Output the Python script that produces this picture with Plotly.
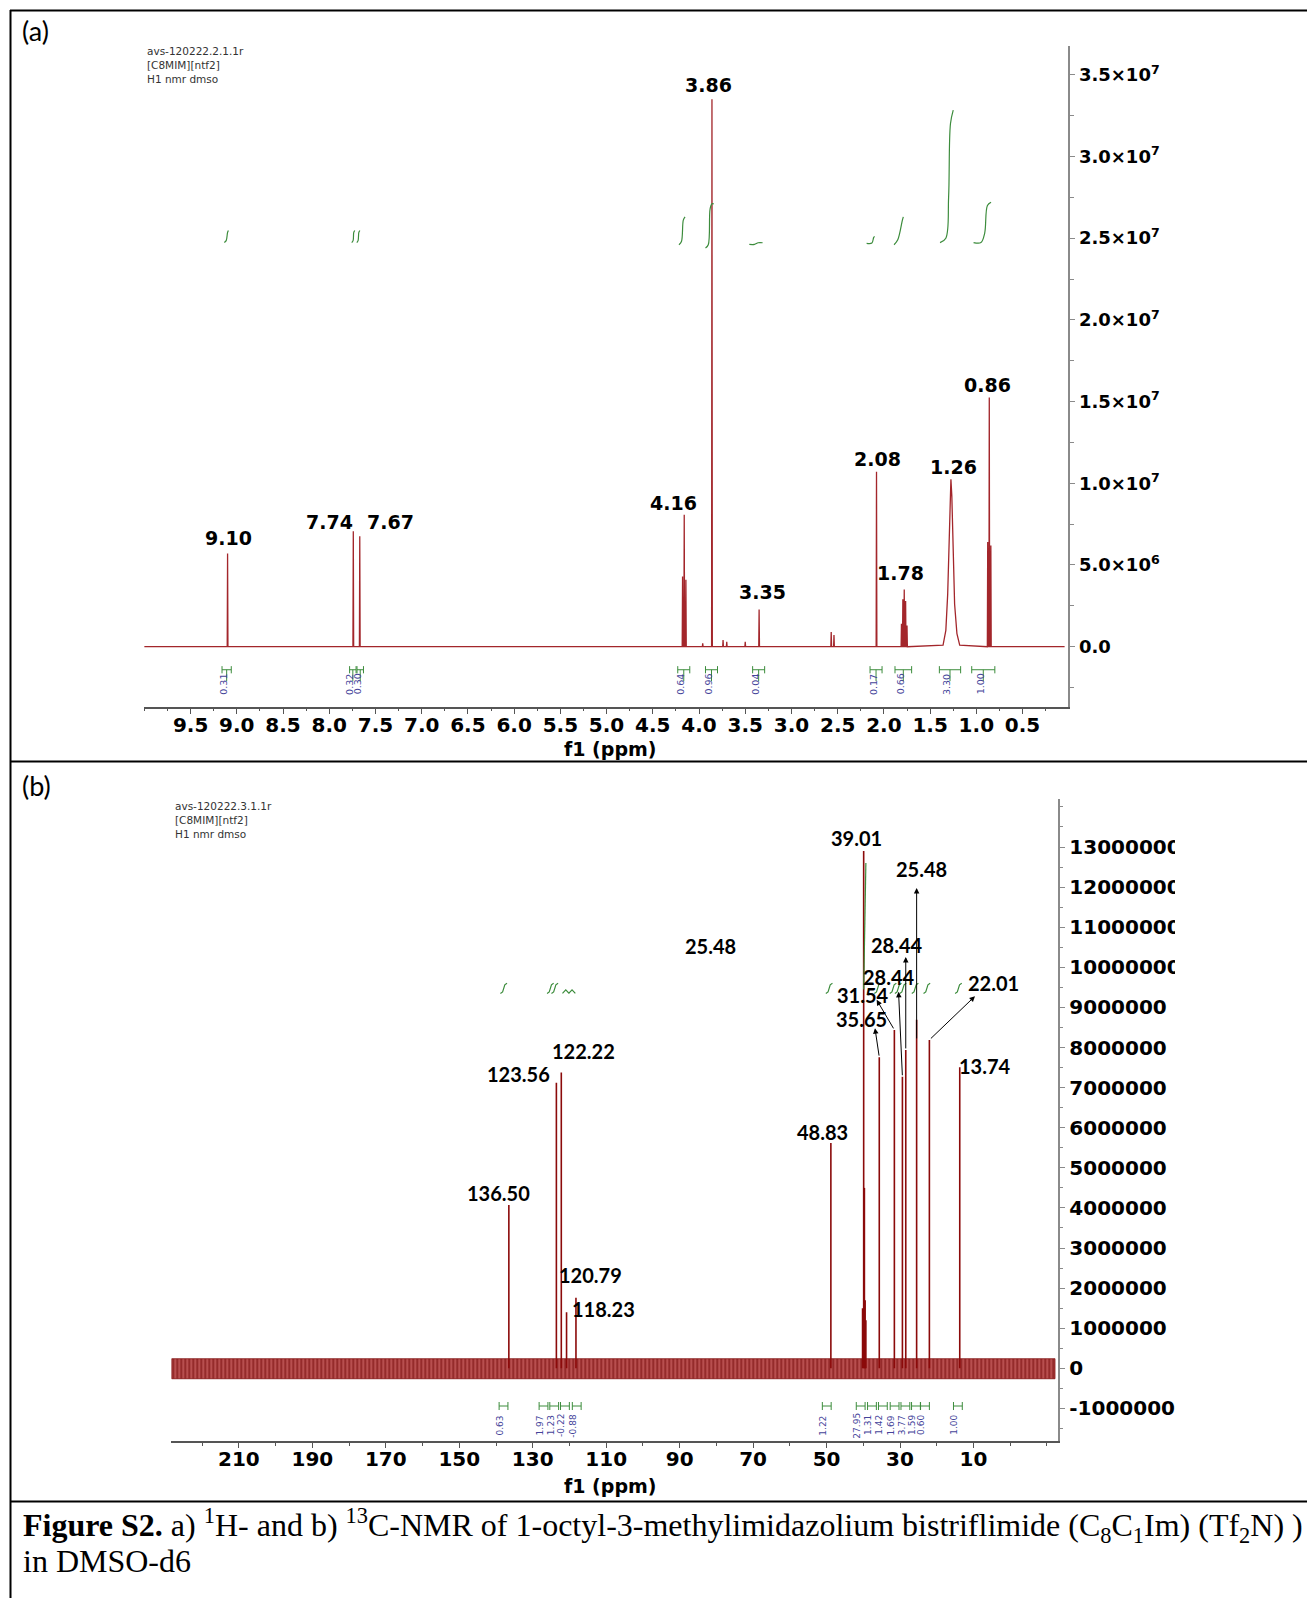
import plotly.graph_objects as go

W, H = 1307, 1598

# ---------------- (a) 1H NMR data ----------------
h_line_ppm = [9.10, 7.74, 7.67, 4.178, 4.160, 4.142, 3.96, 3.86, 3.74, 3.70, 3.50, 3.35,
              2.57, 2.54, 2.08, 1.81, 1.795, 1.78, 1.765, 1.75, 0.877, 0.86, 0.843]
h_line_int = [5.70e6, 7.07e6, 6.76e6, 4.3e6, 8.07e6, 4.1e6, 0.2e6, 3.35e7, 0.4e6, 0.3e6, 0.3e6, 2.27e6,
              0.9e6, 0.72e6, 1.07e7, 1.4e6, 2.9e6, 3.5e6, 2.8e6, 1.3e6, 6.4e6, 1.525e7, 6.2e6]
h_broad_ppm = [1.36, 1.33, 1.31, 1.295, 1.285, 1.275, 1.265, 1.25, 1.235, 1.21, 1.18]
h_broad_int = [0.1e6, 1.0e6, 3.2e6, 6.8e6, 9.4e6, 1.025e7, 9.2e6, 5.8e6, 2.6e6, 0.8e6, 0.1e6]
h_range = [10.0074, 0.0052]

h_labels = ["9.10", "7.74", "7.67", "4.16", "3.86", "3.35", "2.08", "1.78", "1.26", "0.86"]
h_label_ppm = [9.091, 8.0, 7.337, 4.272, 3.896, 3.312, 2.066, 1.824, 1.250, 0.875]
h_label_int = [6.63e6, 7.63e6, 7.63e6, 8.82e6, 34.4e6, 3.33e6, 11.5e6, 4.51e6, 11.0e6, 16.0e6]

h_int_curves = [
    ([9.135, 9.115, 9.100, 9.091], [24.73e6, 24.85e6, 25.35e6, 25.47e6]),
    ([7.757, 7.742, 7.735, 7.724], [24.73e6, 24.85e6, 25.35e6, 25.47e6]),
    ([7.702, 7.688, 7.680, 7.669], [24.73e6, 24.85e6, 25.35e6, 25.47e6]),
    ([4.217, 4.19, 4.17, 4.151], [24.6e6, 24.8e6, 26.1e6, 26.3e6]),
    ([3.930, 3.90, 3.88, 3.86, 3.841], [24.4e6, 24.6e6, 26.8e6, 27.1e6, 27.1e6]),
    ([3.456, 3.40, 3.36, 3.312], [24.62e6, 24.62e6, 24.72e6, 24.72e6]),
    ([2.187, 2.13, 2.11, 2.100], [24.68e6, 24.7e6, 25.05e6, 25.1e6]),
    ([1.890, 1.85, 1.80, 1.790], [24.6e6, 24.9e6, 26.1e6, 26.3e6]),
    ([1.393, 1.33, 1.30, 1.28, 1.250], [24.73e6, 25.0e6, 27.5e6, 32.0e6, 32.84e6]),
    ([1.030, 0.95, 0.91, 0.88, 0.841], [24.73e6, 24.73e6, 25.3e6, 27.0e6, 27.2e6]),
]
h_br_left = [9.16, 7.78, 7.70, 4.23, 3.93, 3.42, 2.15, 1.88, 1.40, 1.05]
h_br_right = [9.06, 7.71, 7.63, 4.10, 3.80, 3.29, 2.02, 1.70, 1.17, 0.80]
h_br_val = ["0.31", "0.32", "0.30", "0.64", "0.96", "0.04", "0.17", "0.66", "3.30", "1.00"]

h_xticks = [9.5, 9.0, 8.5, 8.0, 7.5, 7.0, 6.5, 6.0, 5.5, 5.0, 4.5, 4.0, 3.5, 3.0, 2.5, 2.0, 1.5, 1.0, 0.5]
h_yticks = [0, 5e6, 1e7, 1.5e7, 2e7, 2.5e7, 3e7, 3.5e7]
h_yticktext = ["0.0", "5.0×10<sup>6</sup>", "1.0×10<sup>7</sup>", "1.5×10<sup>7</sup>",
               "2.0×10<sup>7</sup>", "2.5×10<sup>7</sup>", "3.0×10<sup>7</sup>", "3.5×10<sup>7</sup>"]

# ---------------- (b) 13C NMR data ----------------
c_line_ppm = [136.50, 123.56, 122.22, 120.79, 118.23, 48.83, 40.2, 39.9, 39.7, 39.5, 39.3,
              35.65, 31.54, 29.35, 28.44, 25.48, 22.01, 13.74]
c_line_int = [4.07e6, 7.12e6, 7.38e6, 1.4e6, 1.76e6, 5.62e6, 1.5e6, 1.29e7, 4.5e6, 1.7e6, 1.2e6,
              7.76e6, 8.44e6, 7.27e6, 7.94e6, 8.69e6, 8.19e6, 7.51e6]
c_noise_ppm = [228.3, -12.2]
c_noise_int = [-2.6e5, 2.4e5]
c_range = [228.4, -13.09]

c_labels = ["39.01", "25.48", "25.48", "28.44", "28.44", "31.54", "35.65", "22.01", "122.22",
            "123.56", "13.74", "48.83", "136.50", "120.79", "118.23"]
c_label_ppm = [41.89, 24.13, 81.59, 30.83, 33.01, 39.95, 40.50, 4.42, 116.06, 133.76, 6.92,
               51.06, 139.34, 114.34, 110.75]
c_label_int = [13.22e6, 12.44e6, 10.53e6, 10.56e6, 9.77e6, 9.31e6, 8.70e6, 9.61e6, 7.91e6,
               7.33e6, 7.53e6, 5.90e6, 4.38e6, 2.32e6, 1.48e6]

c_arr_tail_ppm = [25.48, 28.44, 29.35, 31.54, 35.65, 22.01]
c_arr_tail_int = [8.19e6, 7.94e6, 7.27e6, 8.44e6, 7.76e6, 8.19e6]
c_arr_head_ppm = [25.48, 28.44, 30.4, 36.36, 36.82, 9.59]
c_arr_head_int = [11.98e6, 10.26e6, 9.39e6, 9.19e6, 8.48e6, 9.28e6]

c_int_ppm = [137.9, 125.2, 124.0, 49.3, 36.1, 31.9, 30.5, 29.2, 25.9, 22.7, 14.1]
c_int_bump_ppm = [121.0, 119.3]
c_int_low, c_int_high = 9.35e6, 9.60e6
c_dmso_int_ppm = [39.9, 39.3]
c_dmso_int_int = [9.45e6, 12.6e6]

c_br_ppm = [137.95, 127.06, 124.15, 121.23, 118.02, 49.95, 40.71, 37.64, 34.67, 31.48, 28.54,
            25.66, 23.21, 14.25]
c_br_val = ["0.63", "1.97", "1.23", "-0.22", "-0.88", "1.22", "27.95", "1.31", "1.42", "1.69",
            "3.77", "1.59", "0.60", "1.00"]

c_xticks = [210, 190, 170, 150, 130, 110, 90, 70, 50, 30, 10]
c_yticks = [-1e6, 0, 1e6, 2e6, 3e6, 4e6, 5e6, 6e6, 7e6, 8e6, 9e6, 1e7, 1.1e7, 1.2e7, 1.3e7]
c_yticktext = [str(int(v)) for v in c_yticks]

# ---------------- style ----------------
RED_A = "#a3262b"
RED_B = "#8b0a0a"
GREEN = "#3c8c3c"
BLUE = "#44449a"
BOLD = dict(family="DejaVu Sans", weight="bold", color="black")


def px(x):
    return x / W


def py(y):
    return 1 - y / H


fig = go.Figure()

# (a) spectrum polyline built from the read peak list
pts = [(h_range[0] - 0.007, 0.0), (h_range[1] + 0.04, 0.0)]
for p, h in zip(h_line_ppm, h_line_int):
    pts += [(p + 0.004, 0.0), (p, h), (p - 0.004, 0.0)]
pts += list(zip(h_broad_ppm, h_broad_int))
pts.sort(key=lambda t: -t[0])
fig.add_trace(go.Scatter(x=[t[0] for t in pts], y=[t[1] for t in pts], mode="lines",
                         line=dict(color=RED_A, width=1.3), xaxis="x", yaxis="y"))

# (a) integral curves
for xs, ys in h_int_curves:
    fig.add_trace(go.Scatter(x=xs, y=ys, mode="lines", line=dict(color=GREEN, width=1.2, shape="spline"),
                             xaxis="x", yaxis="y"))

# (a) integration brackets
yb, e = -1.41e6, 0.22e6
bx, by = [], []
for l, r in zip(h_br_left, h_br_right):
    c = (l + r) / 2
    bx += [l, l, None, l, r, None, r, r, None, c, c, None]
    by += [yb + e, yb - e, None, yb, yb, None, yb + e, yb - e, None, yb, yb - 0.7e6, None]
fig.add_trace(go.Scatter(x=bx, y=by, mode="lines", line=dict(color=GREEN, width=1), xaxis="x", yaxis="y"))

# (b) noise band
fig.add_trace(go.Scatter(x=[c_noise_ppm[0], c_noise_ppm[1], c_noise_ppm[1], c_noise_ppm[0], c_noise_ppm[0]],
                         y=[c_noise_int[0], c_noise_int[0], c_noise_int[1], c_noise_int[1], c_noise_int[0]],
                         mode="lines", fill="toself", fillcolor="rgba(140,0,0,0.8)",
                         fillpattern=dict(shape="|", fgcolor="#6a0000", bgcolor="rgba(160,20,20,0.75)",
                                          size=4, solidity=0.45),
                         line=dict(color="rgba(120,0,0,0.7)", width=1), xaxis="x2", yaxis="y2"))

# (b) peak sticks
sx, sy = [], []
for p, h in zip(c_line_ppm, c_line_int):
    sx += [p, p, None]
    sy += [0, h, None]
fig.add_trace(go.Scatter(x=sx, y=sy, mode="lines", line=dict(color=RED_B, width=1.6), xaxis="x2", yaxis="y2"))

# (b) integral glyphs
r = c_int_high - c_int_low
gx, gy = [], []
for p in c_int_ppm:
    gx += [p + 0.9, p + 0.3, p - 0.3, p - 0.9, None]
    gy += [c_int_low, c_int_low + 0.15 * r, c_int_high - 0.15 * r, c_int_high, None]
for p in c_int_bump_ppm:
    gx += [p + 0.9, p, p - 0.9, None]
    gy += [c_int_low, c_int_low + 0.35 * r, c_int_low, None]
gx += c_dmso_int_ppm + [None]
gy += c_dmso_int_int + [None]
fig.add_trace(go.Scatter(x=gx, y=gy, mode="lines", line=dict(color=GREEN, width=1.2), xaxis="x2", yaxis="y2"))

# (b) integration brackets
yb2, e2 = -0.94e6, 0.1e6
bx, by = [], []
for p in c_br_ppm:
    l, rr = p + 1.2, p - 1.2
    bx += [l, l, None, l, rr, None, rr, rr, None]
    by += [yb2 + e2, yb2 - e2, None, yb2, yb2, None, yb2 + e2, yb2 - e2, None]
fig.add_trace(go.Scatter(x=bx, y=by, mode="lines", line=dict(color=GREEN, width=1), xaxis="x2", yaxis="y2"))

annotations = []
# peak labels (a)
for t, xv, yv in zip(h_labels, h_label_ppm, h_label_int):
    annotations.append(dict(x=xv, y=yv, xref="x", yref="y", text=t, showarrow=False,
                            font=dict(size=19, **BOLD)))
# integration values (a)
for l, rr, v in zip(h_br_left, h_br_right, h_br_val):
    annotations.append(dict(x=(l + rr) / 2 + 0.035, y=-2.3e6, xref="x", yref="y", text=v, showarrow=False,
                            textangle=-90, font=dict(size=9.5, family="DejaVu Sans", color=BLUE)))
# peak labels (b)
for t, xv, yv in zip(c_labels, c_label_ppm, c_label_int):
    annotations.append(dict(x=xv, y=yv, xref="x2", yref="y2", text=t, showarrow=False,
                            font=dict(size=20, family="Lato", weight="bold", color="black")))
# arrows (b)
for tx, ty, hx, hy in zip(c_arr_tail_ppm, c_arr_tail_int, c_arr_head_ppm, c_arr_head_int):
    annotations.append(dict(x=hx, y=hy, ax=tx, ay=ty, xref="x2", yref="y2", axref="x2", ayref="y2",
                            text="", showarrow=True, arrowhead=2, arrowsize=1.1, arrowwidth=1,
                            arrowcolor="black", standoff=0, startstandoff=0))
# integration values (b)
for p, v in zip(c_br_ppm, c_br_val):
    annotations.append(dict(x=p + 0.9, y=-1.42e6, xref="x2", yref="y2", text=v, showarrow=False,
                            textangle=-90, font=dict(size=9, family="DejaVu Sans", color=BLUE)))

# panel letters, headers, axis titles
annotations.append(dict(x=px(20), y=py(30.5), xref="paper", yref="paper", text="(a)", showarrow=False,
                        xanchor="left", yanchor="middle", font=dict(size=27, family="Lato", color="black")))
annotations.append(dict(x=px(20), y=py(785), xref="paper", yref="paper", text="(b)", showarrow=False,
                        xanchor="left", yanchor="middle", font=dict(size=27, family="Lato", color="black")))
for (x0, y0, txt) in [(145, 51, "avs-120222.2.1.1r"), (145, 65, "[C8MIM][ntf2]"), (145, 79, "H1 nmr dmso"),
                      (173, 806, "avs-120222.3.1.1r"), (173, 820, "[C8MIM][ntf2]"), (173, 834, "H1 nmr dmso")]:
    annotations.append(dict(x=px(x0), y=py(y0), xref="paper", yref="paper", text=txt, showarrow=False,
                            xanchor="left", yanchor="middle",
                            font=dict(size=10.5, family="DejaVu Sans", color="#333333")))
annotations.append(dict(x=px(609.7), y=py(749.3), xref="paper", yref="paper", text="f1 (ppm)",
                        showarrow=False, xanchor="center", yanchor="middle", font=dict(size=19, **BOLD)))
annotations.append(dict(x=px(609.7), y=py(1486.4), xref="paper", yref="paper", text="f1 (ppm)",
                        showarrow=False, xanchor="center", yanchor="middle", font=dict(size=19, **BOLD)))
# caption
annotations.append(dict(x=px(21), y=py(1525), xref="paper", yref="paper", xanchor="left", yanchor="middle",
                        showarrow=False,
                        text="<b>Figure S2.</b> a) <sup>1</sup>H- and b) <sup>13</sup>C-NMR of 1-octyl-3-methylimidazolium bistriflimide (C<sub>8</sub>C<sub>1</sub>Im) (Tf<sub>2</sub>N) )",
                        font=dict(size=32, family="Liberation Serif", color="black")))
annotations.append(dict(x=px(21), y=py(1561), xref="paper", yref="paper", xanchor="left", yanchor="middle",
                        showarrow=False, text="in DMSO-d6",
                        font=dict(size=32, family="Liberation Serif", color="black")))

shapes = []
LINE = dict(color="black", width=2)
for yy in [10.5, 761.5, 1501.5]:
    shapes.append(dict(type="line", xref="paper", yref="paper", x0=px(10), x1=1, y0=py(yy), y1=py(yy), line=LINE))
shapes.append(dict(type="line", xref="paper", yref="paper", x0=px(10.5), x1=px(10.5), y0=py(10), y1=0, line=LINE))
# clipping of the 8-digit tick labels as in the export
shapes.append(dict(type="rect", xref="paper", yref="paper", x0=px(1175), x1=px(1250), y0=py(985), y1=py(830),
                   fillcolor="white", line=dict(width=0), layer="above"))

axis_common = dict(showgrid=False, zeroline=False, showline=True, ticks="outside")

fig.update_layout(
    width=W, height=H, margin=dict(l=0, r=0, t=0, b=0),
    paper_bgcolor="white", plot_bgcolor="white", showlegend=False,
    xaxis=dict(domain=[px(143.7), px(1068.3)], range=h_range, anchor="y",
               tickvals=h_xticks, ticktext=[f"{v:.1f}" for v in h_xticks],
               linecolor="#555555", linewidth=1.5, tickcolor="#555555", ticklen=6,
               ticklabelstandoff=-6,
               tickfont=dict(size=20, **BOLD),
               minor=dict(dtick=0.25, tick0=0, ticklen=3, ticks="outside", tickcolor="#555555"),
               **axis_common),
    yaxis=dict(domain=[py(706.7), py(46)], range=[-3.672e6, 36.76e6], anchor="x", side="right",
               tickvals=h_yticks, ticktext=h_yticktext,
               linecolor="#8a8a8a", linewidth=2, tickcolor="#8a8a8a", ticklen=5,
               tickfont=dict(size=18, **BOLD),
               minor=dict(dtick=2.5e6, tick0=0, ticklen=4, ticks="outside", tickcolor="#8a8a8a"),
               **axis_common),
    xaxis2=dict(domain=[px(171.3), px(1058.3)], range=c_range, anchor="y2",
                tickvals=c_xticks, ticktext=[str(v) for v in c_xticks],
                linecolor="#555555", linewidth=1.5, tickcolor="#555555", ticklen=6,
                ticklabelstandoff=-6,
                tickfont=dict(size=20, **BOLD),
                minor=dict(dtick=10, tick0=0, ticklen=4, ticks="outside", tickcolor="#555555"),
                **axis_common),
    yaxis2=dict(domain=[py(1440.7), py(799.3)], range=[-1.805e6, 14.19e6], anchor="x2", side="right",
                tickvals=c_yticks, ticktext=c_yticktext,
                linecolor="#8a8a8a", linewidth=2, tickcolor="#8a8a8a", ticklen=5,
                tickfont=dict(size=20, **BOLD),
                minor=dict(dtick=5e5, tick0=0, ticklen=3, ticks="outside", tickcolor="#8a8a8a"),
                **axis_common),
    annotations=annotations, shapes=shapes,
)

fig.write_html("out.html", config={"displayModeBar": False},
               post_script="document.body.style.margin='0px';document.body.style.overflow='hidden';")
